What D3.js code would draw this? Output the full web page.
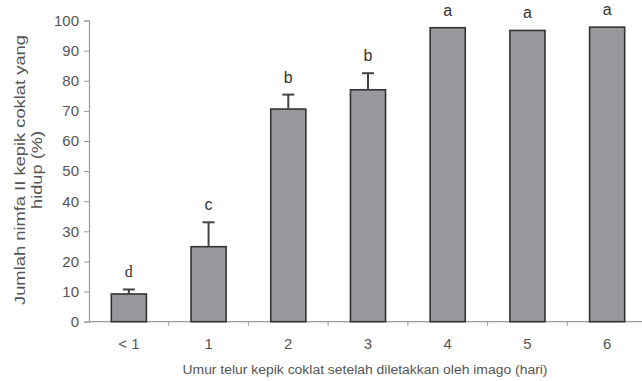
<!DOCTYPE html>
<html><head><meta charset="utf-8">
<script src="https://cdn.jsdelivr.net/npm/d3@7"></script>
<style>body{margin:0;background:#fff}svg{display:block}</style>
</head><body>
<script>
const categories = ["< 1", "1", "2", "3", "4", "5", "6"];
const values = [9.2, 24.9, 70.6, 77.0, 97.6, 96.7, 97.8];
const errors = [1.5, 8.1, 4.8, 5.5, 0, 0, 0];
const letters = ["d", "c", "b", "b", "a", "a", "a"];
const yTicks = [0, 10, 20, 30, 40, 50, 60, 70, 80, 90, 100];
const yTitle = ["Jumlah nimfa II  kepik coklat yang", "hidup (%)"];
const yTitleLen = [270, 78];
const xTitle = "Umur telur kepik coklat setelah diletakkan oleh imago (hari)";

const W = 642, H = 381;
const svg = d3.select("body").append("svg").attr("width", W).attr("height", H);
const x = d3.scaleBand().domain(categories).range([89, 647]).paddingInner(0.56).paddingOuter(0.28);
const y = d3.scaleLinear().domain([0, 100]).range([321.7, 20.5]);
const font = "'Liberation Sans', Arial, sans-serif";

// y axis
const ya = svg.append("g").attr("transform", "translate(89,0)")
  .call(d3.axisLeft(y).tickValues(yTicks).tickSize(5).tickPadding(5));
ya.select(".domain").attr("stroke", "#9a9a9a").attr("stroke-width", 1.2);
ya.selectAll(".tick line").attr("stroke", "#9a9a9a");
ya.selectAll("text").attr("fill", "#555").attr("font-family", font).attr("font-size", 15);

// x axis
const band = x.step();
const xa = svg.append("g").attr("transform", "translate(0,321.7)");
xa.append("line").attr("x1", 89).attr("x2", 642).attr("stroke", "#9a9a9a").attr("stroke-width", 1.2);
xa.selectAll("line.t").data(categories.slice(1)).join("line").attr("class", "t")
  .attr("x1", d => x(d) - (band - x.bandwidth()) / 2).attr("x2", d => x(d) - (band - x.bandwidth()) / 2)
  .attr("y1", 0).attr("y2", 4).attr("stroke", "#9a9a9a");
xa.selectAll("text").data(categories).join("text")
  .attr("x", d => x(d) + x.bandwidth() / 2).attr("y", 27)
  .attr("text-anchor", "middle").attr("fill", "#555").attr("font-family", font).attr("font-size", 15)
  .text(d => d);

// bars
svg.selectAll("rect.bar").data(values).join("rect").attr("class", "bar")
  .attr("x", (d, i) => x(categories[i])).attr("width", x.bandwidth())
  .attr("y", d => y(d)).attr("height", d => y(0) - y(d))
  .attr("fill", "#98989d").attr("stroke", "#333").attr("stroke-width", 1.6);

// error bars
const eg = svg.append("g").attr("stroke", "#444").attr("stroke-width", 2);
values.forEach((v, i) => {
  if (!errors[i]) return;
  const cx = x(categories[i]) + x.bandwidth() / 2;
  eg.append("line").attr("x1", cx).attr("x2", cx).attr("y1", y(v)).attr("y2", y(v + errors[i]));
  eg.append("line").attr("x1", cx - 6).attr("x2", cx + 6).attr("y1", y(v + errors[i])).attr("y2", y(v + errors[i]));
});

// letters
svg.selectAll("text.let").data(letters).join("text").attr("class", "let")
  .attr("x", (d, i) => x(categories[i]) + x.bandwidth() / 2)
  .attr("y", (d, i) => y(values[i] + errors[i]) - 12)
  .attr("text-anchor", "middle").attr("fill", "#333")
  .attr("font-family", (d, i) => i === 0 ? "'Liberation Serif', serif" : font)
  .attr("font-size", 16).text(d => d);

// titles
svg.append("text").attr("x", 365).attr("y", 374).attr("text-anchor", "middle")
  .attr("fill", "#555").attr("font-family", font).attr("font-size", 12.5)
  .attr("textLength", 365).attr("lengthAdjust", "spacingAndGlyphs").text(xTitle);
yTitle.forEach((t, i) => {
  svg.append("text").attr("transform", `translate(${25 + i * 17},170) rotate(-90)`)
    .attr("text-anchor", "middle").attr("fill", "#555").attr("font-family", font).attr("font-size", 15.5)
    .attr("textLength", yTitleLen[i]).attr("lengthAdjust", "spacingAndGlyphs")
    .text(t);
});
</script>
</body></html>
